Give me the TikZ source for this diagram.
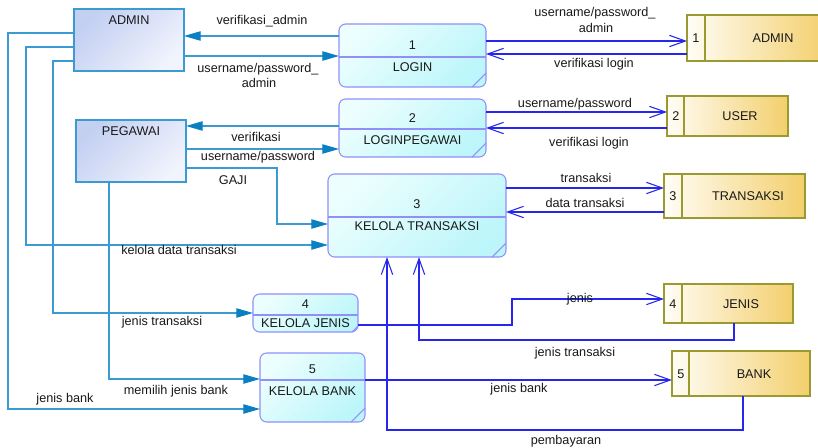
\documentclass[tikz,border=0pt]{standalone}
\usepackage{fontspec}
\setmainfont{Liberation Sans}
\usetikzlibrary{arrows.meta}
\definecolor{entline}{HTML}{3C9AD2}
\definecolor{enthead}{HTML}{0A7FC2}
\definecolor{entA}{HTML}{C3D0F2}
\definecolor{entB}{HTML}{F1F3FD}
\definecolor{flowblue}{HTML}{2626EE}
\definecolor{procline}{HTML}{9090F8}
\definecolor{procA}{HTML}{ECFEFE}
\definecolor{procB}{HTML}{BDF6FA}
\definecolor{storeline}{HTML}{9A9A30}
\definecolor{storeA}{HTML}{FFFDF6}
\definecolor{storeB}{HTML}{F3CF6C}
\begin{document}
\begin{tikzpicture}[x=0.75pt,y=-0.75pt,
  font=\fontsize{9.5}{11}\selectfont,
  sz/.style 2 args={minimum width=#1*0.75pt,minimum height=#2*0.75pt,inner sep=0pt,outer sep=0pt},
  entity/.style={rectangle,draw=entline,line width=0.8pt,top color=entA,bottom color=entB,shading angle=45},
  proc/.style={rectangle,rounded corners=5pt,draw=procline,line width=0.8pt,top color=procA,bottom color=procB,shading angle=45},
  store/.style={rectangle,draw=storeline,line width=0.8pt,left color=storeA,right color=storeB},
  pline/.style={draw=procline,line width=0.8pt},
  sline/.style={draw=storeline,line width=0.8pt},
  lbl/.style={inner sep=0pt,text=black!90},
  eflow/.style={draw=entline,line width=0.9pt,-{Triangle[length=12.5pt,width=7pt,color=enthead]}},
  sflow/.style={draw=flowblue,line width=0.8pt,-{Straight Barb[length=12pt,width=8.5pt]}}]
\clip (0,0) rectangle (818,447);
\fill[white] (0,0) rectangle (818,447);

% external entities
\node[entity,sz={110}{62}] (eA) at (129,40) {};
\node[lbl] (eAt) at (129,20) {ADMIN};
\node[entity,sz={110}{62}] (eP) at (131,151) {};
\node[lbl] (ePt) at (131,131) {PEGAWAI};

% processes
\node[proc,sz={147}{63}] (p1) at (412.5,55.5) {};
\draw[pline] (p1.west |- 0,57) -- (p1.east |- 0,57);
\draw[pline] ([yshift=10.5pt]p1.south east) -- ([xshift=-10.5pt]p1.south east);
\node[lbl] (p1n) at (412.5,45) {1};
\node[lbl] (p1t) at (412.5,67) {LOGIN};

\node[proc,sz={147}{58}] (p2) at (412.5,128) {};
\draw[pline] (p2.west |- 0,129) -- (p2.east |- 0,129);
\draw[pline] ([yshift=10.5pt]p2.south east) -- ([xshift=-10.5pt]p2.south east);
\node[lbl] (p2n) at (412.5,118) {2};
\node[lbl] (p2t) at (412.5,140) {LOGINPEGAWAI};

\node[proc,sz={178}{83}] (p3) at (417,215.5) {};
\draw[pline] (p3.west |- 0,217) -- (p3.east |- 0,217);
\draw[pline] ([yshift=10.5pt]p3.south east) -- ([xshift=-10.5pt]p3.south east);
\node[lbl] (p3n) at (417,204) {3};
\node[lbl] (p3t) at (417,226) {KELOLA TRANSAKSI};

\node[proc,sz={105}{38}] (p4) at (305.5,313) {};
\draw[pline] (p4.west |- 0,315) -- (p4.east |- 0,315);
\draw[pline] ([yshift=4.5pt]p4.south east) -- ([xshift=-4.5pt]p4.south east);
\node[lbl] (p4n) at (305.5,304) {4};
\node[lbl] (p4t) at (305.5,323.5) {KELOLA JENIS};

\node[proc,sz={105}{69}] (p5) at (312.5,387.5) {};
\draw[pline] (p5.west |- 0,380) -- (p5.east |- 0,380);
\draw[pline] ([yshift=10.5pt]p5.south east) -- ([xshift=-10.5pt]p5.south east);
\node[lbl] (p5n) at (312.5,369) {5};
\node[lbl] (p5t) at (312.5,391) {KELOLA BANK};

% data stores
\node[store,sz={140}{46}] (s1) at (757,38) {};
\draw[sline] (s1.north -| 705,0) -- (s1.south -| 705,0);
\node[lbl] (s1n) at (696,38) {1};
\node[lbl] (s1t) at (773,38) {ADMIN};

\node[store,sz={121}{40}] (s2) at (727.5,116) {};
\draw[sline] (s2.north -| 684,0) -- (s2.south -| 684,0);
\node[lbl] (s2n) at (676,116) {2};
\node[lbl] (s2t) at (740,116) {USER};

\node[store,sz={141}{44}] (s3) at (734.5,196) {};
\draw[sline] (s3.north -| 682,0) -- (s3.south -| 682,0);
\node[lbl] (s3n) at (673,196) {3};
\node[lbl] (s3t) at (748,196) {TRANSAKSI};

\node[store,sz={129}{39}] (s4) at (728.5,303.5) {};
\draw[sline] (s4.north -| 682,0) -- (s4.south -| 682,0);
\node[lbl] (s4n) at (673,304) {4};
\node[lbl] (s4t) at (741,304) {JENIS};

\node[store,sz={138}{45}] (s5) at (741,373.5) {};
\draw[sline] (s5.north -| 689,0) -- (s5.south -| 689,0);
\node[lbl] (s5n) at (681,374) {5};
\node[lbl] (s5t) at (754,374) {BANK};

% entity flows
\draw[eflow] (p1.west |- 0,36) -- (eA.east |- 0,36);
\draw[eflow] (eA.east |- 0,56) -- (p1.west |- 0,56);
\draw[eflow] (p2.west |- 0,126) -- (eP.east |- 0,126);
\draw[eflow] (eP.east |- 0,149) -- (p2.west |- 0,149);
\draw[eflow] (eP.east |- 0,168) -| (277,224) -- (p3.west |- 0,224);
\draw[eflow] (eA.west |- 0,47) -| (26,245) -- (p3.west |- 0,245);
\draw[eflow] (eA.west |- 0,61) -| (53,313) -- (p4.west |- 0,313);
\draw[eflow] (eA.west |- 0,33) -| (8,409) -- (p5.west |- 0,409);
\draw[eflow] (eP.south -| 109,0) |- (p5.west |- 0,379);

% store flows
\draw[sflow] (p1.east |- 0,41) -- (s1.west |- 0,41);
\draw[sflow] (s1.west |- 0,54) -- (p1.east |- 0,54);
\draw[sflow] (p2.east |- 0,112) -- (s2.west |- 0,112);
\draw[sflow] (s2.west |- 0,128) -- (p2.east |- 0,128);
\draw[sflow] (p3.east |- 0,188) -- (s3.west |- 0,188);
\draw[sflow] (s3.west |- 0,212) -- (p3.east |- 0,212);
\draw[sflow] (p4.east |- 0,325) -| (512,299) -- (s4.west |- 0,299);
\draw[sflow] (s4.south -| 734,0) |- (419,340) -- (p3.south -| 419,0);
\draw[sflow] (p5.east |- 0,380) -- (s5.west |- 0,380);
\draw[sflow] (s5.south -| 743,0) |- (387,430) -- (p3.south -| 387,0);

% labels
\node[lbl] (l1) at (262,21) {verifikasi\_admin};
\node[lbl] (l2a) at (258,69) {username/password\_};
\node[lbl] (l2b) at (259,83) {admin};
\node[lbl] (l3) at (256,137) {verifikasi};
\node[lbl] (l4) at (258,157) {username/password};
\node[lbl] (l5) at (233,180) {GAJI};
\node[lbl] (l6) at (179,250) {kelola data transaksi};
\node[lbl] (l7) at (162,322) {jenis transaksi};
\node[lbl] (l8) at (176,391) {memilih jenis bank};
\node[lbl] (l9) at (65,399) {jenis bank};
\node[lbl] (r1a) at (595,13) {username/password\_};
\node[lbl] (r1b) at (596,28) {admin};
\node[lbl] (r2) at (594,64) {verifikasi login};
\node[lbl] (r3) at (575,104) {username/password};
\node[lbl] (r4) at (589,143) {verifikasi login};
\node[lbl] (r5) at (586,178) {transaksi};
\node[lbl] (r6) at (585,203) {data transaksi};
\node[lbl] (r7) at (580,299) {jenis};
\node[lbl] (r8) at (575,353) {jenis transaksi};
\node[lbl] (r9) at (519,389) {jenis bank};
\node[lbl] (r10) at (566,441) {pembayaran};
\end{tikzpicture}
\end{document}
